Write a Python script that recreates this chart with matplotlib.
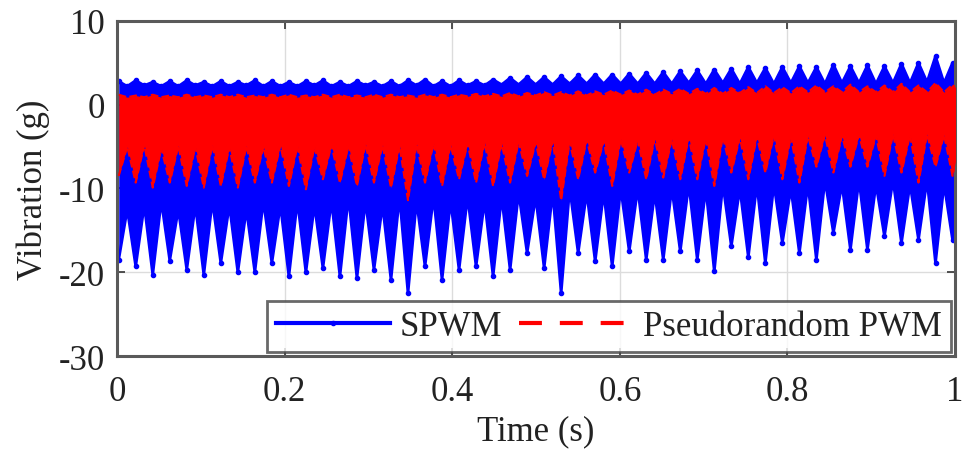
import numpy as np
import matplotlib
matplotlib.use("Agg")
import matplotlib.pyplot as plt

plt.rcParams['font.family'] = ['Liberation Serif', 'DejaVu Serif']
plt.rcParams['axes.unicode_minus'] = False

# one cycle every ~20.3 ms (dip times)
t_dip = np.linspace(0.002, 0.997, 50)
t_mid = t_dip + 0.0102

# SPWM (blue) envelope values, read per cycle
blue_top = [2.8, 2.9, 2.7, 2.8, 2.9, 2.7, 2.8, 2.7, 2.9, 2.8,
            2.7, 2.8, 2.9, 2.7, 2.8, 2.7, 2.8, 2.9, 3.0, 2.8,
            2.9, 2.8, 3.0, 3.2, 3.3, 3.3, 3.4, 3.5, 3.6, 3.6,
            3.7, 3.8, 3.9, 4.0, 4.1, 4.2, 4.3, 4.5, 4.4, 4.5,
            4.6, 4.5, 4.8, 4.6, 4.7, 4.6, 4.9, 5.0, 5.8, 5.0]
blue_trough = [2.2, 2.3, 2.2, 2.2, 2.3, 2.2, 2.2, 2.3, 2.2, 2.2,
               2.2, 2.3, 2.2, 2.2, 2.3, 2.2, 2.2, 2.3, 2.2, 2.2,
               2.3, 2.3, 2.4, 2.4, 2.4, 2.4, 2.5, 2.5, 2.5, 2.5,
               2.5, 2.5, 2.5, 2.6, 2.5, 2.6, 2.5, 2.6, 2.5, 2.6,
               2.6, 2.5, 2.6, 2.6, 2.5, 2.6, 2.6, 2.7, 2.6, 2.7]
blue_dip = [-18.5, -19.3, -20.3, -18.6, -19.7, -20.3, -18.9, -20.0, -20.0, -18.9,
            -20.5, -20.0, -19.5, -20.5, -20.7, -19.7, -20.9, -22.5, -19.3, -20.9,
            -19.7, -19.3, -20.5, -19.7, -17.7, -19.5, -22.5, -17.7, -18.7, -19.3,
            -17.5, -18.5, -18.5, -17.5, -18.5, -19.9, -16.9, -18.2, -18.9, -16.5,
            -17.7, -18.5, -15.3, -17.3, -17.3, -15.7, -16.5, -16.1, -18.9, -16.1]
blue_base = [-12.5, -12.0, -11.5, -12.5, -12.0, -11.5, -12.0, -12.5, -11.5, -12.0,
             -11.5, -12.0, -11.5, -11.0, -11.5, -12.0, -11.0, -11.5, -11.0, -11.5,
             -11.0, -11.5, -11.0, -10.5, -11.0, -10.5, -10.0, -10.5, -10.5, -10.0,
             -10.0, -10.5, -10.0, -9.5, -10.0, -9.5, -10.0, -9.5, -9.5, -10.0,
             -9.5, -9.0, -9.5, -9.0, -9.5, -9.0, -9.5, -9.0, -9.5, -9.0]

# Pseudorandom PWM (red) envelope values, read per cycle
red_top = [1.2, 1.1, 1.2, 1.1, 1.2, 1.1, 1.2, 1.2, 1.1, 1.2,
           1.2, 1.1, 1.2, 1.2, 1.1, 1.2, 1.2, 1.1, 1.2, 1.2,
           1.2, 1.3, 1.3, 1.4, 1.4, 1.5, 1.5, 1.6, 1.6, 1.7,
           1.7, 1.8, 1.8, 1.9, 1.9, 2.0, 2.0, 2.1, 2.2, 2.1,
           2.2, 2.3, 2.2, 2.4, 2.2, 2.3, 2.5, 2.3, 2.6, 2.4]
red_trough = [0.9, 0.9, 0.9, 0.9, 0.9, 0.9, 0.9, 0.9, 0.9, 0.9,
              0.9, 0.9, 0.9, 0.9, 0.9, 0.9, 0.9, 0.9, 0.9, 0.9,
              1.0, 1.0, 1.0, 1.0, 1.1, 1.1, 1.1, 1.1, 1.2, 1.2,
              1.2, 1.2, 1.3, 1.3, 1.3, 1.3, 1.4, 1.4, 1.4, 1.4,
              1.5, 1.5, 1.5, 1.5, 1.5, 1.5, 1.5, 1.5, 1.5, 1.5]
red_dip = [-8.5, -9.3, -9.9, -9.3, -9.7, -9.9, -9.7, -9.9, -9.3, -9.3,
           -9.7, -10.1, -8.9, -9.3, -9.7, -9.3, -9.9, -11.4, -9.3, -9.7,
           -8.9, -9.3, -9.7, -9.3, -8.5, -8.9, -11.4, -8.9, -8.1, -9.7,
           -8.1, -8.9, -8.7, -8.9, -8.9, -9.7, -8.1, -8.9, -8.1, -8.9,
           -9.3, -7.4, -8.1, -7.4, -7.4, -8.5, -8.1, -9.3, -7.4, -8.5]
red_base = [-5.0, -4.8, -5.2, -4.9, -5.0, -4.8, -5.1, -4.9, -5.0, -4.8,
            -4.9, -5.0, -4.8, -4.9, -4.7, -4.8, -4.9, -4.7, -4.6, -4.8,
            -4.6, -4.5, -4.6, -4.4, -4.5, -4.3, -4.4, -4.2, -4.3, -4.1,
            -4.2, -4.0, -4.1, -3.9, -4.0, -3.8, -3.9, -3.8, -3.7, -3.8,
            -3.7, -3.6, -3.7, -3.6, -3.7, -3.5, -3.6, -3.5, -3.6, -3.5]


def interleave(a, b):
    out = np.empty(2 * len(a))
    out[0::2] = a
    out[1::2] = b
    return out


t_env = interleave(t_dip, t_mid)
fs = 25

fig = plt.figure(figsize=(9.64, 4.6), dpi=100)
ax = fig.add_axes([0.1214, 0.2239, 0.8693, 0.7283])

# SPWM band
b_up = interleave(blue_top, blue_trough)
b_lo = interleave(blue_dip, blue_base)
ax.fill_between(t_env, b_lo, b_up, color='#0000ff', lw=0, zorder=2)
ax.plot(t_env, b_up, color='#0000ff', lw=2, marker='.', ms=6, zorder=2)
ax.plot(t_env, b_lo, color='#0000ff', lw=2, marker='.', ms=6, zorder=2,
        label='SPWM')

# Pseudorandom PWM band
r_up = interleave(red_top, red_trough)
r_lo = interleave(red_dip, red_base)
ax.fill_between(t_env, r_lo, r_up, color='#ff0000', lw=0, zorder=3)
ax.plot(t_env, r_up, color='#ff0000', lw=1.5, ls='--', zorder=3)
ax.plot(t_env, r_lo, color='#ff0000', lw=1.5, ls='--', zorder=3,
        label='Pseudorandom PWM')

ax.set_xlim(0, 1)
ax.set_ylim(-30, 10)
ax.set_xticks([0, 0.2, 0.4, 0.6, 0.8, 1])
ax.set_xticklabels(['0', '0.2', '0.4', '0.6', '0.8', '1'])
ax.set_yticks([-30, -20, -10, 0, 10])
ax.grid(True, color='#dcdcdc', lw=1)
ax.set_axisbelow(True)

for sp in ax.spines.values():
    sp.set_color('#5a5a5a')
    sp.set_linewidth(2.2)
ax.tick_params(direction='in', top=True, right=True, length=6, width=1.2,
               color='#333333', labelsize=fs, colors='#222222')
ax.tick_params(axis='x', pad=14)
ax.tick_params(axis='y', pad=9)

ax.set_xlabel('Time (s)', fontsize=fs, labelpad=4, color='#222222')
ax.set_ylabel('Vibration (g)', fontsize=fs, labelpad=6, color='#222222')

leg = ax.legend(loc='lower right', ncol=2, fontsize=fs, frameon=True,
                fancybox=False, handlelength=3.3, handletextpad=0.27,
                columnspacing=0.5, borderpad=0.25, borderaxespad=0.12)
leg.get_frame().set_edgecolor('#444444')
leg.get_frame().set_linewidth(2)
for txt in leg.get_texts():
    txt.set_color('#222222')
for h in leg.get_lines():
    h.set_linewidth(3)
# legend dashes: three long dashes like the original
leg.get_lines()[1].set_dashes([5.5, 4.3])

fig.savefig('out.png', dpi=100)
